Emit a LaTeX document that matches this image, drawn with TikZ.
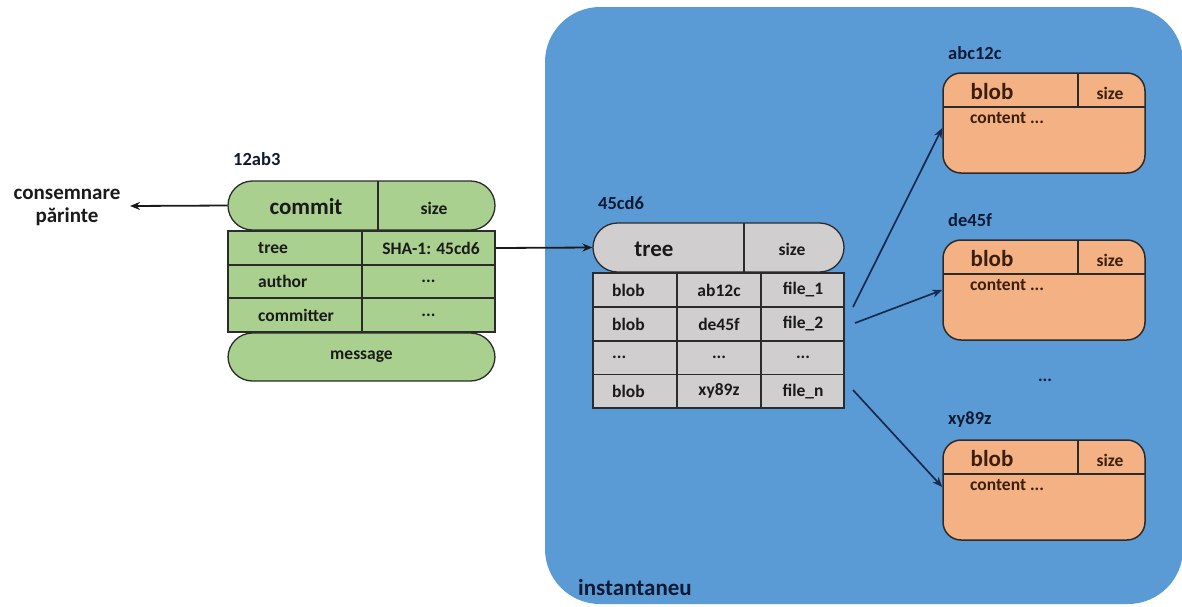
\documentclass[tikz,border=0pt]{standalone}
\usepackage{fontspec}
\setmainfont{Carlito}
\usetikzlibrary{arrows.meta,calc}

\definecolor{snapblue}{HTML}{5B9BD5}
\definecolor{commitgreen}{HTML}{A9D08E}
\definecolor{treegrey}{HTML}{D0CECE}
\definecolor{blobpeach}{HTML}{F4B183}
\definecolor{edge}{HTML}{2B2B2B}
\definecolor{navy}{HTML}{172B4F}
\definecolor{ink}{HTML}{1A1A1A}
\definecolor{brownink}{HTML}{3B1F0E}
\definecolor{deepink}{HTML}{0E1A33}

\newcommand{\etcdots}{...}

\tikzset{
  hd/.style={font=\bfseries\fontsize{23}{27}\selectfont, text=ink, inner sep=0pt},
  sm/.style={font=\bfseries\fontsize{17.5}{20}\selectfont, text=ink, inner sep=0pt},
  idlabel/.style={font=\bfseries\fontsize{18.5}{21}\selectfont, text=deepink, inner sep=0pt, anchor=west},
  pill/.style={draw=edge, line width=1.3pt, rounded corners=24.5pt, inner sep=0pt},
  cellbox/.style={draw=edge, line width=1.3pt, inner sep=0pt},
  divider/.style={draw=edge, line width=1.3pt},
  blobbox/.style={draw=edge, line width=1.5pt, fill=blobpeach, rounded corners=18pt,
    minimum width=202pt, minimum height=100pt, inner sep=0pt},
  darrow/.style={draw=ink, line width=1.8pt, -{Stealth[length=10pt,width=8pt]}},
  narrow/.style={draw=navy, line width=1.7pt, -{Stealth[length=10pt,width=8pt]}},
}

\begin{document}
\begin{tikzpicture}[x=1pt,y=-1pt]
\useasboundingbox (0,0) rectangle (1182,606);

% snapshot region
\node[fill=snapblue, rounded corners=55pt, minimum width=638pt, minimum height=597pt,
  inner sep=0pt] (snap) at (864,305.5) {};
\node[font=\bfseries\fontsize{23}{27}\selectfont, text=deepink, inner sep=0pt, anchor=west]
  (snaplbl) at (578,588) {instantaneu};

% ---------------- commit object ----------------
\node[idlabel] (cid) at (233,159) {12ab3};
\node[pill, fill=commitgreen, minimum width=267pt, minimum height=49pt] (chead) at (361.5,205.5) {};
\draw[divider] (378,181) -- (378,230);
\node[hd] (ctitle) at (306,207) {commit};
\node[sm] (csize) at (434,208) {size};

\node[cellbox, fill=commitgreen, minimum width=134pt, minimum height=34pt] (ctree) at (295,248) {};
\node[cellbox, fill=commitgreen, minimum width=133pt, minimum height=34pt] (csha) at (428.5,248) {};
\node[cellbox, fill=commitgreen, minimum width=134pt, minimum height=33pt] (cauth) at (295,281.5) {};
\node[cellbox, fill=commitgreen, minimum width=133pt, minimum height=33pt] (cauthv) at (428.5,281.5) {};
\node[cellbox, fill=commitgreen, minimum width=134pt, minimum height=34pt] (ccomm) at (295,315) {};
\node[cellbox, fill=commitgreen, minimum width=133pt, minimum height=34pt] (ccommv) at (428.5,315) {};

\node[sm, anchor=west] (ltree) at (258,248) {tree};
\node[sm] (lsha) at (431,248) {SHA-1: 45cd6};
\node[sm, anchor=west] (lauth) at (258,281.5) {author};
\node[sm] (lauthv) at (428.5,281.5) {...};
\node[sm, anchor=west] (lcomm) at (258,315) {committer};
\node[sm] (lcommv) at (428.5,315) {...};

\node[pill, fill=commitgreen, minimum width=267pt, minimum height=48pt, sm] (cmsg) at (361.5,357) {message};

% parent link
\coordinate (parent) at (130,206);
\draw[darrow] (chead.west) -- (parent);
\node[font=\bfseries\fontsize{21}{23}\selectfont, text=ink, align=center, inner sep=0pt]
  (plbl) at (67,207) {consemnare\\părinte};

% ---------------- tree object ----------------
\node[idlabel] (tid) at (598,203) {45cd6};
\node[pill, fill=treegrey, minimum width=251pt, minimum height=49pt] (thead) at (718.5,247.5) {};
\draw[divider] (744,223) -- (744,272);
\node[hd] (ttitle) at (654,249) {tree};
\node[sm] (tsize) at (792,249) {size};

% rows of the tree table
\foreach \r/\y/\hh/\kind/\key/\f in {1/290/34/blob/ab12c/file\_1, 2/324/34/blob/de45f/file\_2,
    3/357.75/33.5/\etcdots/\etcdots/\etcdots, 4/391.25/33.5/blob/xy89z/file\_n}{
  \node[cellbox, fill=treegrey, minimum width=84pt, minimum height=\hh pt] (ta\r) at (635,\y) {};
  \node[cellbox, fill=treegrey, minimum width=84pt, minimum height=\hh pt] (tb\r) at (719,\y) {};
  \node[cellbox, fill=treegrey, minimum width=83pt, minimum height=\hh pt] (tc\r) at (802.5,\y) {};
  \node[sm, anchor=west] (tal\r) at (612,\y) {\kind};
  \node[sm] (tbl\r) at (719,\y) {\key};
  \node[sm] (tcl\r) at (803,\y) {\f};
}

% commit -> tree
\draw[darrow] (csha.east) -- (thead.west);

% ---------------- blob objects ----------------
\foreach \b/\top/\name in {1/73/abc12c, 2/240/de45f, 3/440/xy89z}{
  \node[idlabel] (bid\b) at (948,\top-20) {\name};
  \node[blobbox] (b\b) at (1044,\top+50) {};
  \draw[divider] (943,\top+34) -- (1145,\top+34);
  \draw[divider] (1078,\top) -- (1078,\top+34);
  \node[hd, text=brownink] (bt\b) at (992,\top+19) {blob};
  \node[sm, text=brownink] (bs\b) at (1110,\top+20) {size};
  \node[sm, text=brownink, anchor=west] (bc\b) at (970,\top+45) {content ...};
}
\node[sm, text=deepink] (bdots) at (1045,380) {...};

% tree entries -> blobs
\coordinate (s1) at (853,307);
\coordinate (s2) at (855,323);
\coordinate (s3) at (853,390);
\draw[narrow] (s1) -- ([yshift=-5pt]b1.west);
\draw[narrow] (s2) -- (b2.west);
\draw[narrow] (s3) -- ([yshift=3pt]b3.west);
\end{tikzpicture}
\end{document}
